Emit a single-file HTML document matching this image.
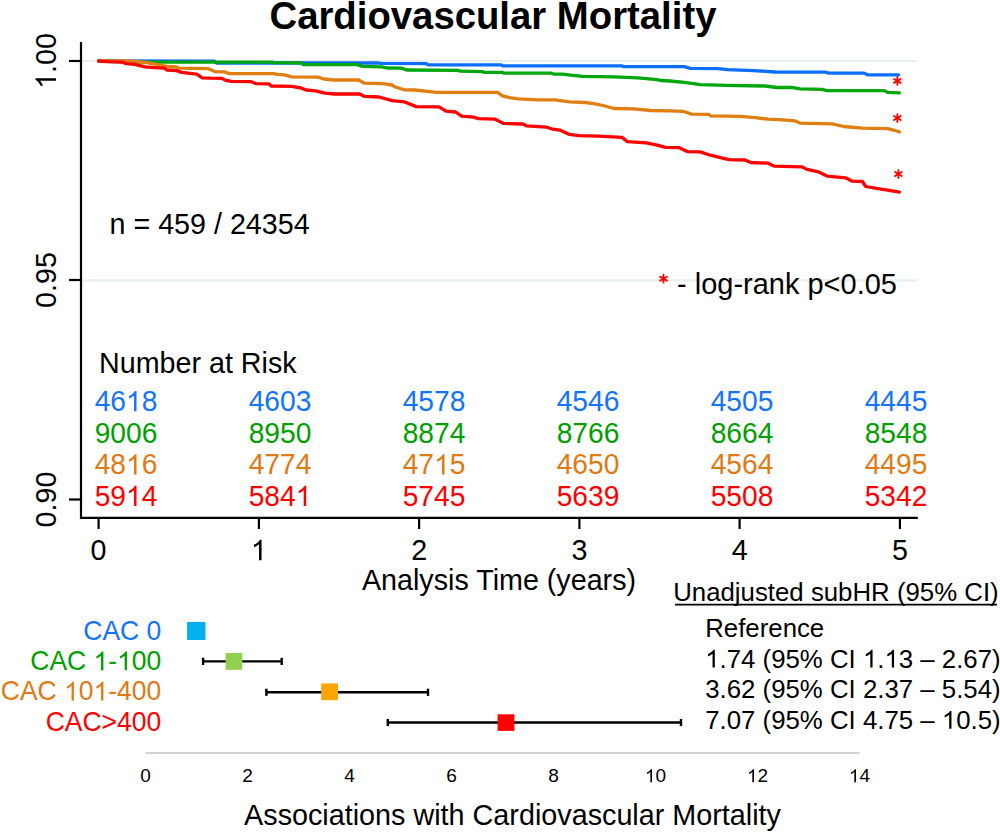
<!DOCTYPE html>
<html><head><meta charset="utf-8"><title>Cardiovascular Mortality</title>
<style>html,body{margin:0;padding:0;background:#fff;width:1000px;height:832px;overflow:hidden}svg{display:block;font-family:"Liberation Sans",sans-serif}</style>
</head><body>
<svg width="1000" height="832" viewBox="0 0 1000 832" font-family="Liberation Sans, sans-serif">
<rect width="1000" height="832" fill="#ffffff"/>
<text transform="translate(269.50 28.80)" font-size="38.3" fill="#000" font-weight="bold">Cardiovascular Mortality</text>
<g stroke="#e8eff2" stroke-width="2.2"><line x1="82" y1="61" x2="917" y2="61"/><line x1="82" y1="280.3" x2="917" y2="280.3"/></g>
<g stroke="#000" stroke-width="2.2" fill="none">
<path d="M81 42 V517.8 H917.8"/>
<line x1="69" y1="61" x2="81" y2="61"/>
<line x1="69" y1="280" x2="81" y2="280"/>
<line x1="69" y1="499.5" x2="81" y2="499.5"/>
<line x1="98.6" y1="518" x2="98.6" y2="529"/>
<line x1="258.9" y1="518" x2="258.9" y2="529"/>
<line x1="419.1" y1="518" x2="419.1" y2="529"/>
<line x1="579.4" y1="518" x2="579.4" y2="529"/>
<line x1="739.6" y1="518" x2="739.6" y2="529"/>
<line x1="899.9" y1="518" x2="899.9" y2="529"/>
</g>
<g transform="translate(56.00 61.00) rotate(-90) scale(1 1.040)"><text font-size="28.7" fill="#000" text-anchor="middle">&#x2007;.00</text><path transform="translate(-27.93 0) scale(0.01401 -0.01401)" fill="#000" d="M763 0H583V1098Q518 1038 412.5 979Q307 920 223 890V1057Q374 1125 487 1221Q600 1318 647 1409H763V0Z"/></g>
<text transform="translate(56.00 280.00) rotate(-90) scale(1 1.040)" font-size="28.7" fill="#000" text-anchor="middle">0.95</text>
<text transform="translate(56.00 499.50) rotate(-90) scale(1 1.040)" font-size="28.7" fill="#000" text-anchor="middle">0.90</text>
<text transform="translate(98.60 560.20) scale(1 1.040)" font-size="28.7" fill="#000" text-anchor="middle">0</text>
<g transform="translate(258.86 560.20) scale(1 1.040)"><text font-size="28.7" fill="#000" text-anchor="middle">&#x2007;</text><path transform="translate(-7.98 0) scale(0.01401 -0.01401)" fill="#000" d="M763 0H583V1098Q518 1038 412.5 979Q307 920 223 890V1057Q374 1125 487 1221Q600 1318 647 1409H763V0Z"/></g>
<text transform="translate(419.12 560.20) scale(1 1.040)" font-size="28.7" fill="#000" text-anchor="middle">2</text>
<text transform="translate(579.38 560.20) scale(1 1.040)" font-size="28.7" fill="#000" text-anchor="middle">3</text>
<text transform="translate(739.64 560.20) scale(1 1.040)" font-size="28.7" fill="#000" text-anchor="middle">4</text>
<text transform="translate(899.90 560.20) scale(1 1.040)" font-size="28.7" fill="#000" text-anchor="middle">5</text>
<text transform="translate(499.00 589.60) scale(1 1.020)" font-size="28.7" fill="#000" text-anchor="middle">Analysis Time (years)</text>
<g fill="none" stroke-width="3.3" stroke-linejoin="round" stroke-linecap="round">
<path stroke="#0a6fff" d="M98.6 61.0 L214.4 61.1 L216.5 63.0 L377.8 63.0 L381.4 63.4 L425.8 63.6 L428.2 64.8 L501.2 64.8 L502.4 65.8 L622.3 65.8 L623.5 66.6 L684.4 66.6 L690.2 68.3 L717.6 68.7 L727.7 69.7 L753.7 70.6 L775.3 72.0 L825.4 72.1 L828.7 73.1 L864.1 73.1 L867.4 74.8 L898.6 74.8"/>
<path stroke="#00a60e" d="M98.6 61.0 L130.0 62.0 L272.0 62.2 L274.0 62.7 L301.2 62.9 L303.6 64.6 L357.4 64.6 L362.2 66.4 L381.4 66.8 L387.4 68.0 L401.8 68.2 L406.6 70.0 L458.0 70.4 L460.4 71.2 L482.0 71.6 L484.4 72.4 L502.4 72.4 L503.6 73.2 L551.6 73.2 L554.0 74.2 L562.2 74.2 L570.6 75.2 L582.7 76.4 L613.9 76.9 L638.0 77.8 L657.2 79.6 L660.8 80.5 L670.0 81.0 L684.4 82.4 L700.3 84.6 L726.3 85.3 L765.2 86.0 L776.7 87.5 L791.7 87.3 L800.1 88.9 L822.0 89.4 L827.1 90.6 L884.3 90.6 L887.6 92.3 L899.4 92.8"/>
<path stroke="#e07e10" d="M98.6 61.0 L128.6 60.9 L145.4 62.4 L155.0 64.0 L167.0 66.4 L176.6 67.0 L179.0 68.2 L207.8 68.6 L214.8 71.6 L224.4 71.8 L229.2 73.6 L273.6 73.6 L277.2 74.4 L284.4 74.8 L291.6 76.8 L318.0 77.2 L324.0 79.0 L333.4 80.0 L358.6 80.0 L364.6 83.2 L382.6 83.6 L392.2 85.0 L394.6 86.8 L404.2 89.8 L415.0 90.0 L429.4 91.6 L436.6 92.4 L497.6 92.4 L502.4 95.8 L509.6 97.6 L518.0 98.8 L538.4 99.8 L555.0 99.8 L569.4 101.9 L585.1 102.5 L593.5 103.7 L603.1 105.5 L613.9 108.5 L633.2 108.9 L651.2 110.5 L670.0 110.8 L683.0 111.3 L691.6 114.1 L708.9 114.4 L710.4 115.9 L740.7 116.3 L755.1 117.7 L768.1 119.2 L782.5 119.9 L795.1 120.9 L800.1 123.1 L832.1 123.9 L843.9 126.5 L862.4 128.1 L887.6 128.7 L894.4 130.3 L899.4 132.0"/>
<path stroke="#ff0000" d="M98.6 61.0 L107.0 61.6 L122.6 62.2 L126.2 63.6 L134.6 64.4 L145.4 66.8 L155.0 67.6 L164.6 68.2 L167.0 70.0 L176.6 70.6 L181.4 72.4 L197.0 74.2 L201.8 77.8 L210.2 78.2 L222.0 78.4 L225.6 80.4 L231.6 81.4 L250.8 81.6 L255.6 83.6 L268.8 83.8 L271.2 86.0 L291.6 86.4 L301.2 88.0 L306.0 90.0 L315.6 90.8 L325.0 93.2 L334.6 94.0 L359.8 94.0 L364.6 96.4 L379.0 97.0 L392.2 100.6 L404.2 101.8 L416.2 106.6 L439.0 106.8 L446.0 111.2 L455.6 112.0 L461.6 116.2 L473.6 117.2 L478.4 118.6 L495.2 119.2 L503.6 123.4 L522.8 124.0 L526.4 125.8 L546.8 127.2 L552.8 129.2 L559.8 130.1 L569.4 134.4 L579.0 135.6 L598.3 136.2 L622.3 137.4 L627.1 141.6 L646.4 142.8 L657.2 145.2 L665.6 147.3 L678.7 147.6 L687.3 151.6 L700.3 151.9 L710.4 155.2 L720.5 157.7 L729.1 159.6 L745.0 160.0 L750.8 162.5 L768.1 163.2 L773.9 166.1 L801.8 166.8 L806.9 169.4 L818.7 171.9 L827.1 176.1 L845.6 177.8 L852.3 181.2 L862.4 181.5 L865.8 186.5 L880.9 189.2 L889.3 190.4 L899.4 192.1"/>
</g>
<g stroke="#ff0000" stroke-width="1.90" stroke-linecap="round"><line x1="897.40" y1="77.00" x2="897.40" y2="84.80"/><line x1="894.02" y1="78.95" x2="900.78" y2="82.85"/><line x1="894.02" y1="82.85" x2="900.78" y2="78.95"/></g>
<g stroke="#ff0000" stroke-width="1.90" stroke-linecap="round"><line x1="897.40" y1="114.10" x2="897.40" y2="121.90"/><line x1="894.02" y1="116.05" x2="900.78" y2="119.95"/><line x1="894.02" y1="119.95" x2="900.78" y2="116.05"/></g>
<g stroke="#ff0000" stroke-width="1.90" stroke-linecap="round"><line x1="898.40" y1="170.10" x2="898.40" y2="177.90"/><line x1="895.02" y1="172.05" x2="901.78" y2="175.95"/><line x1="895.02" y1="175.95" x2="901.78" y2="172.05"/></g>
<text transform="translate(109.50 234.10) scale(1 1.020)" font-size="28.7" fill="#000">n = 459 / 24354</text>
<g stroke="#ff0000" stroke-width="1.90" stroke-linecap="round"><line x1="663.50" y1="274.80" x2="663.50" y2="282.60"/><line x1="660.12" y1="276.75" x2="666.88" y2="280.65"/><line x1="660.12" y1="280.65" x2="666.88" y2="276.75"/></g>
<text transform="translate(677.00 293.50) scale(1 1.020)" font-size="29" fill="#000">- log-rank p&lt;0.05</text>
<text transform="translate(99.00 373.10) scale(1 1.020)" font-size="28.7" fill="#000">Number at Risk</text>
<g transform="translate(126.00 411.20) scale(1 1.040)"><text font-size="28.2" fill="#1473ff" text-anchor="middle">46&#x2007;8</text><path transform="translate(0.00 0) scale(0.01377 -0.01377)" fill="#1473ff" d="M763 0H583V1098Q518 1038 412.5 979Q307 920 223 890V1057Q374 1125 487 1221Q600 1318 647 1409H763V0Z"/></g>
<text transform="translate(280.00 411.20) scale(1 1.040)" font-size="28.2" fill="#1473ff" text-anchor="middle">4603</text>
<text transform="translate(434.00 411.20) scale(1 1.040)" font-size="28.2" fill="#1473ff" text-anchor="middle">4578</text>
<text transform="translate(588.00 411.20) scale(1 1.040)" font-size="28.2" fill="#1473ff" text-anchor="middle">4546</text>
<text transform="translate(742.00 411.20) scale(1 1.040)" font-size="28.2" fill="#1473ff" text-anchor="middle">4505</text>
<text transform="translate(896.00 411.20) scale(1 1.040)" font-size="28.2" fill="#1473ff" text-anchor="middle">4445</text>
<text transform="translate(126.00 442.80) scale(1 1.040)" font-size="28.2" fill="#00a000" text-anchor="middle">9006</text>
<text transform="translate(280.00 442.80) scale(1 1.040)" font-size="28.2" fill="#00a000" text-anchor="middle">8950</text>
<text transform="translate(434.00 442.80) scale(1 1.040)" font-size="28.2" fill="#00a000" text-anchor="middle">8874</text>
<text transform="translate(588.00 442.80) scale(1 1.040)" font-size="28.2" fill="#00a000" text-anchor="middle">8766</text>
<text transform="translate(742.00 442.80) scale(1 1.040)" font-size="28.2" fill="#00a000" text-anchor="middle">8664</text>
<text transform="translate(896.00 442.80) scale(1 1.040)" font-size="28.2" fill="#00a000" text-anchor="middle">8548</text>
<g transform="translate(126.00 474.40) scale(1 1.040)"><text font-size="28.2" fill="#e07a14" text-anchor="middle">48&#x2007;6</text><path transform="translate(0.00 0) scale(0.01377 -0.01377)" fill="#e07a14" d="M763 0H583V1098Q518 1038 412.5 979Q307 920 223 890V1057Q374 1125 487 1221Q600 1318 647 1409H763V0Z"/></g>
<text transform="translate(280.00 474.40) scale(1 1.040)" font-size="28.2" fill="#e07a14" text-anchor="middle">4774</text>
<g transform="translate(434.00 474.40) scale(1 1.040)"><text font-size="28.2" fill="#e07a14" text-anchor="middle">47&#x2007;5</text><path transform="translate(0.00 0) scale(0.01377 -0.01377)" fill="#e07a14" d="M763 0H583V1098Q518 1038 412.5 979Q307 920 223 890V1057Q374 1125 487 1221Q600 1318 647 1409H763V0Z"/></g>
<text transform="translate(588.00 474.40) scale(1 1.040)" font-size="28.2" fill="#e07a14" text-anchor="middle">4650</text>
<text transform="translate(742.00 474.40) scale(1 1.040)" font-size="28.2" fill="#e07a14" text-anchor="middle">4564</text>
<text transform="translate(896.00 474.40) scale(1 1.040)" font-size="28.2" fill="#e07a14" text-anchor="middle">4495</text>
<g transform="translate(126.00 506.00) scale(1 1.040)"><text font-size="28.2" fill="#ff0000" text-anchor="middle">59&#x2007;4</text><path transform="translate(0.00 0) scale(0.01377 -0.01377)" fill="#ff0000" d="M763 0H583V1098Q518 1038 412.5 979Q307 920 223 890V1057Q374 1125 487 1221Q600 1318 647 1409H763V0Z"/></g>
<g transform="translate(280.00 506.00) scale(1 1.040)"><text font-size="28.2" fill="#ff0000" text-anchor="middle">584&#x2007;</text><path transform="translate(15.68 0) scale(0.01377 -0.01377)" fill="#ff0000" d="M763 0H583V1098Q518 1038 412.5 979Q307 920 223 890V1057Q374 1125 487 1221Q600 1318 647 1409H763V0Z"/></g>
<text transform="translate(434.00 506.00) scale(1 1.040)" font-size="28.2" fill="#ff0000" text-anchor="middle">5745</text>
<text transform="translate(588.00 506.00) scale(1 1.040)" font-size="28.2" fill="#ff0000" text-anchor="middle">5639</text>
<text transform="translate(742.00 506.00) scale(1 1.040)" font-size="28.2" fill="#ff0000" text-anchor="middle">5508</text>
<text transform="translate(896.00 506.00) scale(1 1.040)" font-size="28.2" fill="#ff0000" text-anchor="middle">5342</text>
<text transform="translate(161.30 640.10) scale(1 1.030)" font-size="26.5" fill="#1473ff" text-anchor="end">CAC 0</text>
<g transform="translate(161.30 670.27) scale(1 1.030)"><text font-size="26.5" fill="#00a000" text-anchor="end">CAC &#x2007;-&#x2007;00</text><path transform="translate(-67.78 0) scale(0.01294 -0.01294)" fill="#00a000" d="M763 0H583V1098Q518 1038 412.5 979Q307 920 223 890V1057Q374 1125 487 1221Q600 1318 647 1409H763V0Z"/><path transform="translate(-44.21 0) scale(0.01294 -0.01294)" fill="#00a000" d="M763 0H583V1098Q518 1038 412.5 979Q307 920 223 890V1057Q374 1125 487 1221Q600 1318 647 1409H763V0Z"/></g>
<g transform="translate(161.30 700.44) scale(1 1.030)"><text font-size="26.5" fill="#e07a14" text-anchor="end">CAC &#x2007;0&#x2007;-400</text><path transform="translate(-97.25 0) scale(0.01294 -0.01294)" fill="#e07a14" d="M763 0H583V1098Q518 1038 412.5 979Q307 920 223 890V1057Q374 1125 487 1221Q600 1318 647 1409H763V0Z"/><path transform="translate(-67.78 0) scale(0.01294 -0.01294)" fill="#e07a14" d="M763 0H583V1098Q518 1038 412.5 979Q307 920 223 890V1057Q374 1125 487 1221Q600 1318 647 1409H763V0Z"/></g>
<text transform="translate(161.30 730.61) scale(1 1.030)" font-size="26.5" fill="#ff0000" text-anchor="end">CAC&gt;400</text>
<g stroke="#000" stroke-width="2.4">
<line x1="203.1" y1="661.4" x2="281.7" y2="661.4"/>
<line x1="203.1" y1="657.8" x2="203.1" y2="665.0"/>
<line x1="281.7" y1="657.8" x2="281.7" y2="665.0"/>
<line x1="266.4" y1="692.3" x2="428.0" y2="692.3"/>
<line x1="266.4" y1="688.7" x2="266.4" y2="695.9"/>
<line x1="428.0" y1="688.7" x2="428.0" y2="695.9"/>
<line x1="387.8" y1="722.5" x2="681.0" y2="722.5"/>
<line x1="387.8" y1="718.9" x2="387.8" y2="726.1"/>
<line x1="681.0" y1="718.9" x2="681.0" y2="726.1"/>
</g>
<rect x="187.1" y="622.0" width="18.4" height="18.0" fill="#00b0f0"/>
<rect x="225.6" y="653.0" width="16.7" height="16.8" fill="#92d050"/>
<rect x="321.2" y="683.4" width="16.8" height="16.8" fill="#ffa500"/>
<rect x="497.6" y="714.3" width="16.8" height="16.6" fill="#ff0000"/>
<line x1="145.5" y1="753" x2="859.5" y2="753" stroke="#c4c4c4" stroke-width="1.6"/>
<text transform="translate(145.50 782.30)" font-size="19" fill="#000" text-anchor="middle">0</text>
<text transform="translate(247.50 782.30)" font-size="19" fill="#000" text-anchor="middle">2</text>
<text transform="translate(349.50 782.30)" font-size="19" fill="#000" text-anchor="middle">4</text>
<text transform="translate(451.50 782.30)" font-size="19" fill="#000" text-anchor="middle">6</text>
<text transform="translate(553.50 782.30)" font-size="19" fill="#000" text-anchor="middle">8</text>
<g transform="translate(655.50 782.30)"><text font-size="19" fill="#000" text-anchor="middle">&#x2007;0</text><path transform="translate(-10.57 0) scale(0.00928 -0.00928)" fill="#000" d="M763 0H583V1098Q518 1038 412.5 979Q307 920 223 890V1057Q374 1125 487 1221Q600 1318 647 1409H763V0Z"/></g>
<g transform="translate(757.50 782.30)"><text font-size="19" fill="#000" text-anchor="middle">&#x2007;2</text><path transform="translate(-10.57 0) scale(0.00928 -0.00928)" fill="#000" d="M763 0H583V1098Q518 1038 412.5 979Q307 920 223 890V1057Q374 1125 487 1221Q600 1318 647 1409H763V0Z"/></g>
<g transform="translate(859.50 782.30)"><text font-size="19" fill="#000" text-anchor="middle">&#x2007;4</text><path transform="translate(-10.57 0) scale(0.00928 -0.00928)" fill="#000" d="M763 0H583V1098Q518 1038 412.5 979Q307 920 223 890V1057Q374 1125 487 1221Q600 1318 647 1409H763V0Z"/></g>
<text transform="translate(512.50 824.50)" font-size="28.75" fill="#000" text-anchor="middle">Associations with Cardiovascular Mortality</text>
<text transform="translate(673.20 601.20)" font-size="25.8" fill="#000">Unadjusted subHR (95% CI)</text>
<line x1="675" y1="604.7" x2="997" y2="604.7" stroke="#000" stroke-width="1.8"/>
<text transform="translate(705.20 636.90)" font-size="25.8" fill="#000">Reference</text>
<g transform="translate(705.20 667.50)"><text font-size="25.8" fill="#000">&#x2007;.74 (95% CI &#x2007;.&#x2007;3 – 2.67)</text><path transform="translate(0.00 0) scale(0.01260 -0.01260)" fill="#000" d="M763 0H583V1098Q518 1038 412.5 979Q307 920 223 890V1057Q374 1125 487 1221Q600 1318 647 1409H763V0Z"/><path transform="translate(157.75 0) scale(0.01260 -0.01260)" fill="#000" d="M763 0H583V1098Q518 1038 412.5 979Q307 920 223 890V1057Q374 1125 487 1221Q600 1318 647 1409H763V0Z"/><path transform="translate(179.26 0) scale(0.01260 -0.01260)" fill="#000" d="M763 0H583V1098Q518 1038 412.5 979Q307 920 223 890V1057Q374 1125 487 1221Q600 1318 647 1409H763V0Z"/></g>
<text transform="translate(705.20 698.10)" font-size="25.8" fill="#000">3.62 (95% CI 2.37 – 5.54)</text>
<g transform="translate(705.20 728.70)"><text font-size="25.8" fill="#000">7.07 (95% CI 4.75 – &#x2007;0.5)</text><path transform="translate(236.65 0) scale(0.01260 -0.01260)" fill="#000" d="M763 0H583V1098Q518 1038 412.5 979Q307 920 223 890V1057Q374 1125 487 1221Q600 1318 647 1409H763V0Z"/></g>
</svg>
</body></html>
